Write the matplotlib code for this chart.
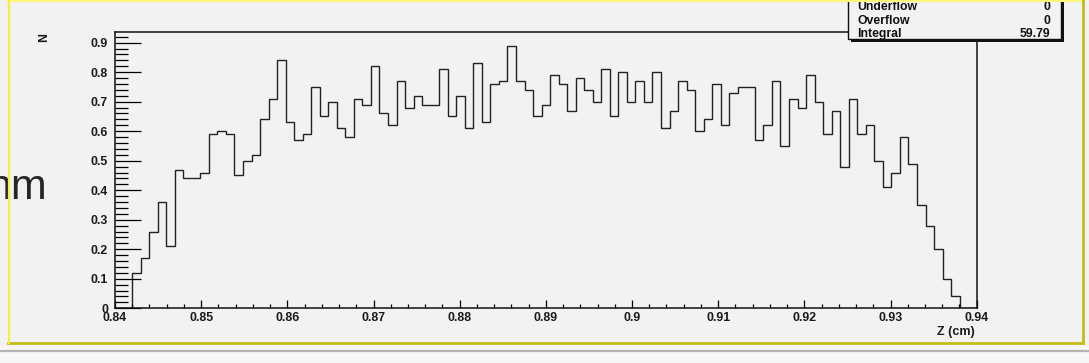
import numpy as np
import matplotlib as mpl
mpl.use('Agg')
from matplotlib import pyplot as plt
from matplotlib.patches import Rectangle
from matplotlib.lines import Line2D
from matplotlib.ticker import MultipleLocator, FuncFormatter

# Z distribution, 101 bins between 0.84 and 0.94 cm
z_min, z_max, n_bins = 0.84, 0.94, 101
counts = [0, 0,
          0.12, 0.17, 0.26, 0.36, 0.21, 0.47, 0.44, 0.44, 0.46, 0.59,
          0.60, 0.59, 0.45, 0.50, 0.52,
          0.64, 0.71, 0.84, 0.63, 0.57, 0.59, 0.75, 0.65, 0.70, 0.61,
          0.58, 0.71, 0.69, 0.82, 0.66, 0.62, 0.77,
          0.68, 0.72, 0.69, 0.69, 0.81, 0.65, 0.72, 0.61, 0.83, 0.63,
          0.76, 0.77, 0.89, 0.77, 0.74, 0.65, 0.69,
          0.79, 0.76, 0.67, 0.78, 0.74, 0.70, 0.81, 0.65, 0.80, 0.70,
          0.77, 0.70, 0.80, 0.61, 0.67, 0.77, 0.74,
          0.60, 0.64, 0.76, 0.62, 0.73, 0.75, 0.75, 0.57, 0.62, 0.77,
          0.55, 0.71, 0.68, 0.79, 0.70, 0.59, 0.67,
          0.48, 0.71, 0.59, 0.62, 0.50, 0.41, 0.46, 0.58, 0.49, 0.35,
          0.28, 0.20, 0.10, 0.04,
          0, 0]

stat_names = ['Underflow', 'Overflow', 'Integral']
stat_values = ['0', '0', '59.79']

W, H = 1089, 363
bg = '#f2f2f2'
plt.rcParams['font.family'] = ['Liberation Sans', 'DejaVu Sans']

fig = plt.figure(figsize=(W / 100, H / 100), dpi=100, facecolor=bg)


def fx(px):
    return px / W


def fy(py):
    return 1 - py / H


# slide text peeking out behind the canvas
fig.text(fx(47), fy(188), 'nm', ha='right', va='center', fontsize=31,
         color='#262626')

ax = fig.add_axes([fx(115), fy(308.3), fx(976.7 - 115), (308.3 - 32.3) / H])
ax.set_facecolor(bg)

edges = np.linspace(z_min, z_max, n_bins + 1)
ax.stairs(counts, edges, color='#222222', linewidth=1.0)

ax.set_xlim(z_min, z_max)
ax.set_ylim(0, 0.935)
ax.xaxis.set_major_locator(MultipleLocator(0.01))
ax.xaxis.set_minor_locator(MultipleLocator(0.002))
ax.yaxis.set_major_locator(MultipleLocator(0.1))
ax.yaxis.set_minor_locator(MultipleLocator(0.02))
fmt = FuncFormatter(lambda v, p: '%g' % round(v, 3))
ax.xaxis.set_major_formatter(fmt)
ax.yaxis.set_major_formatter(fmt)

for sp in ax.spines.values():
    sp.set_linewidth(1.1)
    sp.set_color('#111111')

ax.tick_params(axis='y', which='major', direction='in', length=19, width=0.9,
               pad=5, labelsize=8.9)
ax.tick_params(axis='y', which='minor', direction='in', length=9.5, width=0.9)
ax.tick_params(axis='x', which='major', direction='in', length=5.5, width=0.9,
               pad=2.5, labelsize=8.9)
ax.tick_params(axis='x', which='minor', direction='in', length=3, width=0.9)
for lab in ax.get_xticklabels() + ax.get_yticklabels():
    lab.set_fontweight('bold')
    lab.set_color('#1a1a1a')

fig.text(fx(44), fy(37), 'N', rotation=90, ha='center', va='center',
         fontsize=8.9, fontweight='bold', color='#1a1a1a')
fig.text(fx(975), fy(332), 'Z (cm)', ha='right', va='center',
         fontsize=9, fontweight='bold', color='#1a1a1a')

# stats box with shadow
bx0, bx1, by0, by1 = 848, 1061, -5, 39
fig.add_artist(Rectangle((fx(bx0 + 3), fy(by1 + 3)), fx(bx1 - bx0), (by1 - by0) / H,
                         transform=fig.transFigure, facecolor='#111111',
                         edgecolor='none', zorder=5))
fig.add_artist(Rectangle((fx(bx0), fy(by1)), fx(bx1 - bx0), (by1 - by0) / H,
                         transform=fig.transFigure, facecolor=bg,
                         edgecolor='#111111', linewidth=1.0, zorder=6))
for i, (name, val) in enumerate(zip(stat_names, stat_values)):
    yy = fy(7 + 13.6 * i)
    fig.text(fx(857), yy, name, ha='left', va='center', fontsize=8.8,
             fontweight='bold', color='#111111', zorder=7)
    fig.text(fx(1050), yy, val, ha='right', va='center', fontsize=8.8,
             fontweight='bold', color='#111111', zorder=7)

# canvas border and the strip below it
fig.add_artist(Rectangle((0, 0), 1, fy(346), transform=fig.transFigure,
                         facecolor='#f7f7f7', edgecolor='none', zorder=8))
fig.add_artist(Line2D([0, 1], [fy(350.5)] * 2, transform=fig.transFigure,
                      color='#b4b4b4', linewidth=1.6, zorder=9))
fig.add_artist(Line2D([fx(8), fx(1083)], [fy(343)] * 2, transform=fig.transFigure,
                      color='#c2bc14', linewidth=2.0, zorder=9))
fig.add_artist(Line2D([fx(8), fx(1083)], [fy(0.8)] * 2, transform=fig.transFigure,
                      color='#fbf77a', linewidth=1.5, zorder=9))
fig.add_artist(Line2D([fx(8.5)] * 2, [fy(0), fy(343)], transform=fig.transFigure,
                      color='#f5f040', linewidth=1.6, zorder=9))
fig.add_artist(Line2D([fx(1082.5)] * 2, [fy(0), fy(343)], transform=fig.transFigure,
                      color='#c2bc14', linewidth=2.0, zorder=9))

fig.savefig('out.png', dpi=100, facecolor=bg)
